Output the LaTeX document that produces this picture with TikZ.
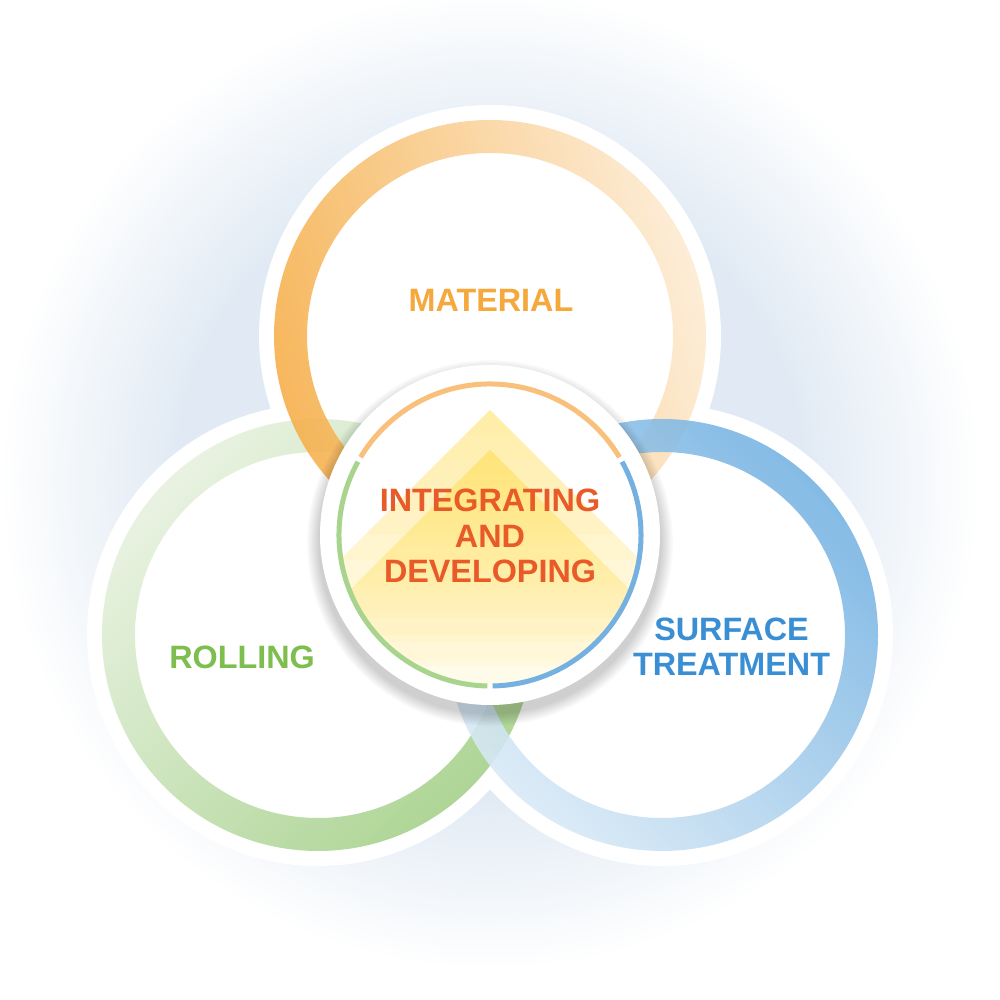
\documentclass[tikz,border=0pt]{standalone}
\usepackage{fontspec}
\setmainfont{Liberation Sans}
\usepackage{tikz}
\definecolor{MatOrange}{HTML}{F5A83C}
\definecolor{MatRingDark}{HTML}{F6AE48}
\definecolor{MatRingLight}{HTML}{FDEBD2}
\definecolor{MatArc}{HTML}{F8C07A}
\definecolor{RollGreen}{HTML}{7DBE4F}
\definecolor{RollRingDark}{HTML}{A4D088}
\definecolor{RollRingLight}{HTML}{E6F1DE}
\definecolor{RollArc}{HTML}{A9D48E}
\definecolor{SurfBlue}{HTML}{3A8FD4}
\definecolor{SurfRingDark}{HTML}{74B2E2}
\definecolor{SurfRingLight}{HTML}{D8E9F6}
\definecolor{SurfArc}{HTML}{74B0E0}
\definecolor{CoreRed}{HTML}{E85A28}
\definecolor{CoreYellow}{HTML}{FFE04A}
\definecolor{GlowBlue}{HTML}{E1EAF4}
\pgfdeclareradialshading{bgglow}{\pgfpoint{0bp}{0bp}}{color(0bp)=(GlowBlue); color(16bp)=(GlowBlue); color(25bp)=(white); color(50bp)=(white)}

\begin{document}
\begin{tikzpicture}[x=1mm, y=1mm,
  lbl/.style={font=\bfseries\fontsize{9.2}{10}\selectfont, align=center, inner sep=0pt},
  halo/.style={fill=white},
  ring/.style={even odd rule, fill opacity=0.88},
  chevron/.style={fill=CoreYellow, opacity=0.06},
  ctrarc/.style={line width=0.5mm}]
  \useasboundingbox (0,0) rectangle (100,100);
  \fill[white] (0,0) rectangle (100,100);
  \shade[shading=bgglow] (49,52) circle (49);
  \coordinate (mat) at (49,66.4);
  \coordinate (roll) at (31.8,36.5);
  \coordinate (surf) at (66.2,36.5);
  \coordinate (core) at (49,46.5);
  \coordinate (peakA) at (49,59);
  \coordinate (peakB) at (49,55);
  % white backing discs
  \foreach \c in {mat,roll,surf}
    \fill[halo] (\c) circle (23.1);
  % outer rings
  \shade[ring, top color=RollRingLight, bottom color=RollRingDark, shading angle=45]
    (roll) circle (21.6) (roll) circle (18.3);
  \shade[ring, top color=MatRingDark, bottom color=MatRingLight, shading angle=105]
    (mat) circle (21.6) (mat) circle (18.3);
  \shade[ring, top color=SurfRingDark, bottom color=SurfRingLight, shading angle=-45]
    (surf) circle (21.6) (surf) circle (18.3);
  % centre disc with soft shadow
  \foreach \i in {1,...,8}
    \fill[black, opacity=0.025] ([yshift=-0.8mm]core) circle ({17+0.16*\i});
  \fill[white] (core) circle (17);
  % fading chevrons, built from stacked translucent triangles
  \begin{scope}
    \clip (core) circle (15);
    \foreach \k in {1,...,10}
      \fill[chevron] (peakA) -- ++({-2.5*\k},{-2.5*\k}) -- ++({5*\k},0) -- cycle;
    \foreach \k in {1,...,11}
      \fill[chevron] (peakB) -- ++({-2.4*\k},{-2.4*\k}) -- ++({4.8*\k},0) -- cycle;
  \end{scope}
  \draw[ctrarc, MatArc] ([shift={(31:15.1)}]core) arc (31:149:15.1);
  \draw[ctrarc, RollArc] ([shift={(151:15.1)}]core) arc (151:269:15.1);
  \draw[ctrarc, SurfArc] ([shift={(271:15.1)}]core) arc (271:389:15.1);
  % labels
  \node[lbl, text=MatOrange] (matlbl) at (49.1,70.0) {MATERIAL};
  \node[lbl, text=RollGreen] (rolllbl) at (24.2,34.3) {ROLLING};
  \node[lbl, text=SurfBlue] (surflbl) at (73.15,35.35) {SURFACE\\TREATMENT};
  \node[lbl, text=CoreRed] (corelbl) at (49,46.4) {INTEGRATING\\AND\\DEVELOPING};
\end{tikzpicture}
\end{document}
